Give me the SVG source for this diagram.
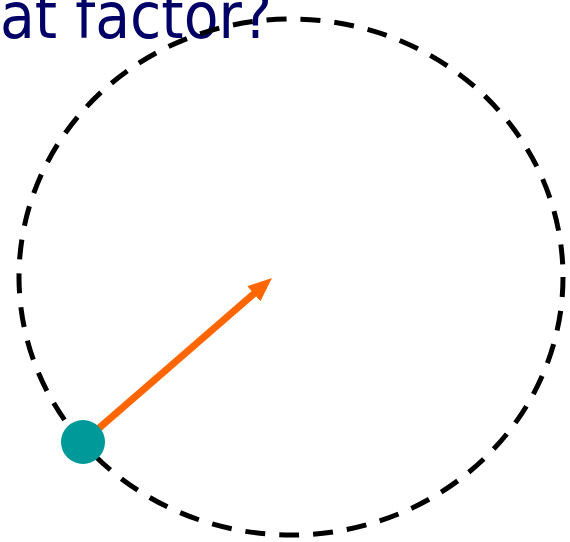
<svg xmlns="http://www.w3.org/2000/svg" width="570" height="542" viewBox="0 0 570 542">
<defs>
<style>
.title{font-family:"DejaVu Sans Condensed","DejaVu Sans",sans-serif;font-size:64px;fill:#000066}
.orbit{fill:none;stroke:#000;stroke-width:5;stroke-dasharray:20 14}
.vec{stroke:#FF6600;stroke-width:7;fill:none}
</style>
<marker id="ah" markerWidth="24" markerHeight="20" viewBox="0 0 24 20" refX="8" refY="10" orient="auto" markerUnits="userSpaceOnUse">
<path d="M0,0 L24,10 L0,20 Z" fill="#FF6600"/>
</marker>
</defs>
<text class="title" x="0" y="38" textLength="272" lengthAdjust="spacingAndGlyphs">at factor?</text>
<g id="orbit"><ellipse class="orbit" cx="291" cy="277" rx="272" ry="258"/></g>
<g id="connectors"><line class="vec" x1="83" y1="442" x2="259.9" y2="288.5" marker-end="url(#ah)"/></g>
<g id="particle"><circle cx="83" cy="442" r="22" fill="#009999"/></g>
</svg>
